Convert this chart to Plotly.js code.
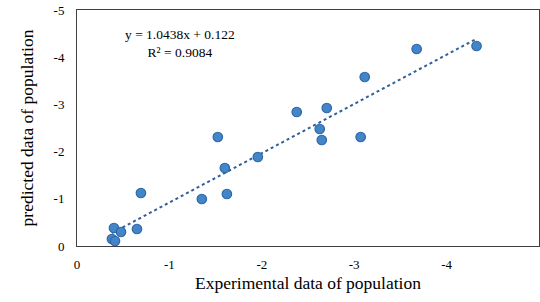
<!DOCTYPE html>
<html>
<head>
<meta charset="utf-8">
<script src="https://cdn.plot.ly/plotly-3.0.1.min.js"></script>
<style>html,body{margin:0;padding:0;background:#fff;}#chart{width:540px;height:302px;}</style>
</head>
<body>
<div id="chart"></div>
<script>
const experimental = [-0.378, -0.411, -0.400, -0.476, -0.649, -0.692, -1.351, -1.524, -1.600, -1.622, -1.957, -2.378, -2.703, -2.627, -2.649, -3.070, -3.114, -3.676, -4.324];
const predicted    = [-0.148, -0.106, -0.381, -0.297, -0.360, -1.123, -0.996, -2.309, -1.653, -1.102, -1.886, -2.839, -2.924, -2.479, -2.246, -2.309, -3.581, -4.174, -4.237];
const slope = 1.0438;
const intercept = 0.122;
const r2 = 0.9084;
const tickVals = [0, -1, -2, -3, -4, -5];
const tickText = ['0', '-1', '-2', '-3', '-4', '-5'];

const xMin = Math.max(...experimental), xMax = Math.min(...experimental);
const trendX = [xMin, xMax];
const trendY = trendX.map(v => slope * v + intercept);

const font = "'Liberation Serif', 'Times New Roman', serif";

Plotly.newPlot('chart', [
  {
    x: trendX, y: trendY, mode: 'lines', type: 'scatter',
    line: {color: '#2f5f98', width: 2, dash: 'dot'}, hoverinfo: 'skip'
  },
  {
    x: experimental, y: predicted, mode: 'markers', type: 'scatter',
    marker: {size: 9.5, color: '#4285c9', line: {color: '#2d67a6', width: 1.2}}
  }
], {
  width: 540, height: 302,
  margin: {l: 77, r: 1, t: 10, b: 56},
  paper_bgcolor: '#fff', plot_bgcolor: '#fff',
  showlegend: false,
  font: {family: font, color: '#000', size: 12},
  xaxis: {
    range: [0, -5], tickvals: tickVals, ticktext: tickText,
    showgrid: false, zeroline: false, showline: true, mirror: true,
    linecolor: '#404040', linewidth: 1, ticks: '', ticklabelstandoff: 6,
    tickfont: {family: font, size: 13, color: '#000'},
    title: {text: 'Experimental data of population', font: {family: font, size: 17.5, color: '#000'}, standoff: 6}
  },
  yaxis: {
    range: [0, -5], tickvals: tickVals, ticktext: tickText,
    showgrid: false, zeroline: false, showline: true, mirror: true,
    linecolor: '#404040', linewidth: 1, ticks: '', ticklabelstandoff: 9,
    tickfont: {family: font, size: 13, color: '#000'},
    title: {text: 'predicted data of population', font: {family: font, size: 17.5, color: '#000'}, standoff: 15}
  },
  annotations: [{
    xref: 'paper', yref: 'paper', x: 0.223, y: 0.86, xanchor: 'center', yanchor: 'middle',
    showarrow: false, align: 'center',
    text: 'y = ' + slope.toFixed(4) + 'x + ' + intercept.toFixed(3) + '<br>R² = ' + r2.toFixed(4),
    font: {family: font, size: 13.5, color: '#000'}
  }]
}, {displayModeBar: false, staticPlot: true});
</script>
</body>
</html>
